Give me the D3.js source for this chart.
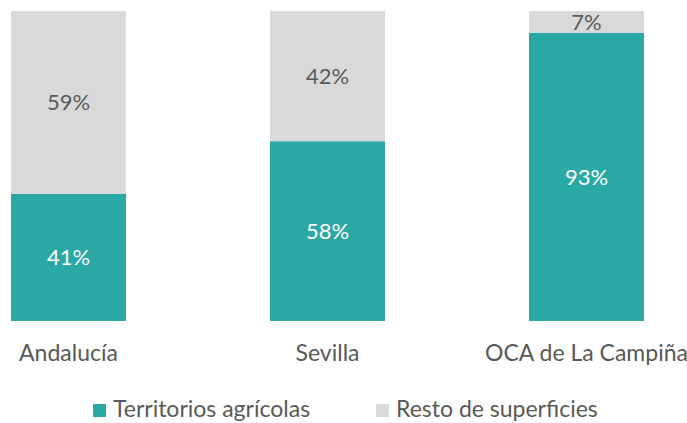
<!DOCTYPE html>
<html>
<head>
<meta charset="utf-8">
<script src="https://cdn.jsdelivr.net/npm/d3@7"></script>
<style>
  body { margin: 0; background: #fff; }
  text { font-family: Lato, "Open Sans", sans-serif; }
</style>
</head>
<body>
<svg id="chart"></svg>
<script>
// data
var categories = ['Andalucía', 'Sevilla', 'OCA de La Campiña'];
var agricolas = [41, 58, 93];
var resto = [59, 42, 7];
var seriesNames = ['Territorios agrícolas', 'Resto de superficies'];

var width = 687, height = 423,
	teal = '#2aa9a4',
	grey = '#d9d9d9';

var svg = d3.select('#chart')
	.attr('width', width)
	.attr('height', height);

var x = d3.scaleBand()
	.domain(categories)
	.range([11, 644])
	.paddingInner(0.556)
	.paddingOuter(0);

var y = d3.scaleLinear().domain([0, 100]).range([321, 11]);

var rows = categories.map(function(c, i) {
	return { cat: c, agricolas: agricolas[i], resto: resto[i] };
});
var stack = d3.stack().keys(['agricolas', 'resto'])(rows);
var colors = { agricolas: teal, resto: grey };
var labelColors = { agricolas: '#ffffff', resto: '#595959' };

var layers = svg.selectAll('g.layer')
	.data(stack)
	.enter().append('g')
	.attr('class', 'layer');

layers.selectAll('rect')
	.data(function(d) { return d.map(function(p) { p.key = d.key; return p; }); })
	.enter().append('rect')
	.attr('x', function(d) { return x(d.data.cat); })
	.attr('y', function(d) { return y(d[1]); })
	.attr('width', x.bandwidth())
	.attr('height', function(d) { return y(d[0]) - y(d[1]); })
	.attr('fill', function(d) { return colors[d.key]; });

layers.selectAll('text')
	.data(function(d) { return d; })
	.enter().append('text')
	.attr('x', function(d) { return x(d.data.cat) + x.bandwidth() / 2; })
	.attr('y', function(d) { return (y(d[0]) + y(d[1])) / 2; })
	.attr('dy', '0.35em')
	.attr('text-anchor', 'middle')
	.attr('font-size', 22)
	.attr('fill', function(d) { return labelColors[d.key]; })
	.text(function(d) { return (d[1] - d[0]) + '%'; });

// category axis
var axis = svg.append('g')
	.attr('transform', 'translate(0,321)')
	.call(d3.axisBottom(x).tickSize(0).tickPadding(24));
axis.select('.domain').remove();
axis.selectAll('text')
	.attr('font-size', 23)
	.attr('font-family', 'Lato, "Open Sans", sans-serif')
	.attr('fill', '#595959');

// legend
var legendX = [93, 376];
var legend = svg.selectAll('g.legend')
	.data(seriesNames)
	.enter().append('g')
	.attr('class', 'legend')
	.attr('transform', function(d, i) { return 'translate(' + legendX[i] + ',404)'; });

legend.append('rect')
	.attr('width', 13)
	.attr('height', 13)
	.attr('fill', function(d, i) { return i === 0 ? teal : grey; });

legend.append('text')
	.attr('x', 20)
	.attr('y', 13)
	.attr('font-size', 23)
	.attr('fill', '#595959')
	.text(function(d) { return d; });
</script>
</body>
</html>
